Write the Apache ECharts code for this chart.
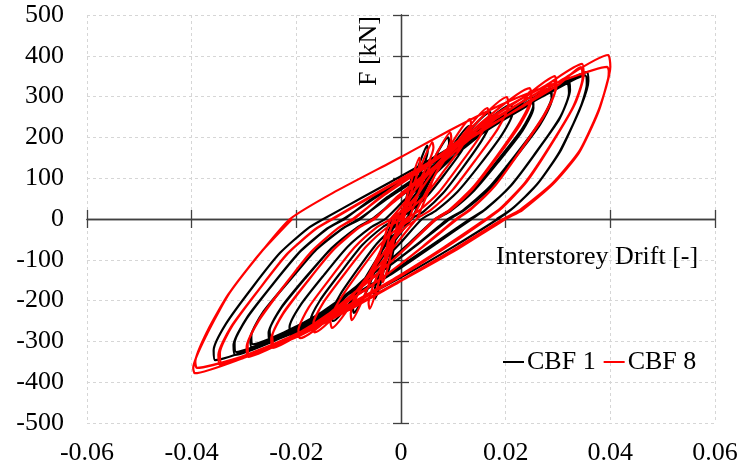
<!DOCTYPE html>
<html>
<head>
<meta charset="utf-8">
<script src="https://cdn.jsdelivr.net/npm/echarts@6/dist/echarts.min.js"></script>
<style>
html,body{margin:0;padding:0;background:#fff;}
#chart{width:742px;height:472px;}
</style>
</head>
<body>
<div id="chart"></div>
<script>
// Tick labels
var xTickLabels = ['-0.06','-0.04','-0.02','0','0.02','0.04','0.06'];
var yTickLabels = ['-500','-400','-300','-200','-100','0','100','200','300','400','500'];
var seriesNames = ['CBF 1','CBF 8'];

// CBF 1 (black): [interstorey drift, F kN]
var cbf1 = [
[0,0],[0.0013,65],[0.0025,120],
[0.0026,112],[0.0022,89],[0.0015,58],[0.0008,29],[0,8],[-0.0004,0],
[-0.0011,-52],[-0.0018,-99],[-0.0025,-130],
[-0.0026,-121],[-0.0022,-96],[-0.0015,-62],[-0.0008,-31],[0,-9],[0.0004,0],
[0.0019,76],[0.0035,135],[0.005,180],
[0.0051,167],[0.0044,133],[0.0028,86],[0.0013,43],[-0.0003,13],[-0.0012,0],
[-0.0025,-78],[-0.0037,-148],[-0.005,-195],
[-0.0051,-181],[-0.0044,-144],[-0.0028,-94],[-0.0013,-47],[0.0003,-14],[0.0012,0],
[0.0038,84],[0.0064,150],[0.009,200],
[0.0092,186],[0.008,148],[0.0053,96],[0.0027,48],[0.0001,14],[-0.0015,0],
[-0.004,-92],[-0.0065,-175],[-0.009,-230],
[-0.0092,-214],[-0.0079,-170],[-0.0052,-110],[-0.0024,-55],[0.0004,-16],[0.002,0],
[0.0056,96],[0.0094,171],[0.013,228],
[0.0132,212],[0.0117,169],[0.0083,109],[0.0049,55],[0.0015,16],[-0.0005,0],
[-0.0046,-100],[-0.0089,-190],[-0.013,-250],
[-0.0133,-233],[-0.0116,-185],[-0.0081,-120],[-0.0046,-60],[-0.0011,-18],[0.001,0],
[0.0063,110],[0.0117,197],[0.017,262],
[0.0173,244],[0.0155,194],[0.0118,126],[0.008,63],[0.0043,18],[0.002,0],
[-0.0043,-107],[-0.0107,-204],[-0.017,-268],
[-0.0173,-249],[-0.0154,-198],[-0.0114,-129],[-0.0074,-64],[-0.0034,-19],[-0.001,0],
[0.0063,118],[0.0137,210],[0.021,280],
[0.0213,260],[0.0193,207],[0.0151,134],[0.0108,67],[0.0066,20],[0.004,0],
[0,-57],[-0.0043,-114],[-0.0085,-165],[-0.0128,-217],[-0.017,-257],[-0.021,-285],
[-0.0213,-265],[-0.0192,-211],[-0.0147,-137],[-0.0102,-68],[-0.0057,-20],[-0.003,0],
[0.0008,48],[0.0068,114],[0.0113,168],[0.016,219],[0.0205,258],[0.025,300],
[0.0253,279],[0.0232,222],[0.0185,144],[0.0139,72],[0.0093,21],[0.0065,0],
[0.0015,-60],[-0.0039,-120],[-0.0093,-174],[-0.0146,-228],[-0.02,-270],[-0.025,-300],
[-0.0253,-279],[-0.0231,-222],[-0.0182,-144],[-0.0133,-72],[-0.0084,-21],[-0.0055,0],
[-0.0009,48],[0.0064,117],[0.0113,166],[0.016,214],[0.0205,252],[0.025,292],
[0.0253,272],[0.0232,216],[0.0186,140],[0.014,70],[0.0095,20],[0.0068,0],
[0.0018,-58],[-0.0036,-117],[-0.009,-170],[-0.0144,-223],[-0.0198,-264],[-0.0248,-294],
[-0.0251,-273],[-0.0229,-217],[-0.0181,-141],[-0.0132,-71],[-0.0083,-21],[-0.0053,0],
[-0.0009,51],[0.0064,122],[0.0118,180],[0.0176,234],[0.0231,276],[0.0285,321],
[0.0288,299],[0.0266,238],[0.0217,154],[0.0168,77],[0.0119,22],[0.009,0],
[0.003,-63],[-0.0034,-126],[-0.0098,-182],[-0.0161,-239],[-0.0225,-283],[-0.0285,-314],
[-0.0288,-292],[-0.0265,-232],[-0.0213,-151],[-0.0162,-75],[-0.011,-22],[-0.008,0],
[-0.0026,50],[0.006,123],[0.0124,183],[0.0192,240],[0.0245,280],[0.0285,313],
[0.0288,292],[0.0266,232],[0.0218,150],[0.017,75],[0.0121,22],[0.0093,0],
[0.0033,-61],[-0.0031,-123],[-0.0095,-178],[-0.0158,-234],[-0.0222,-277],[-0.0283,-307],
[-0.0286,-286],[-0.0263,-227],[-0.0212,-148],[-0.0161,-74],[-0.011,-22],[-0.0078,0],
[-0.0026,54],[0.006,129],[0.0124,190],[0.0192,248],[0.0256,292],[0.032,340],
[0.0323,316],[0.0305,252],[0.0258,163],[0.021,82],[0.0162,24],[0.0135,0],
[0.006,-67],[-0.0016,-133],[-0.0093,-193],[-0.0169,-253],[-0.0245,-300],[-0.0317,-333],
[-0.032,-310],[-0.0296,-246],[-0.0245,-160],[-0.0193,-80],[-0.0141,-23],[-0.011,0],
[-0.0047,54],[0.0053,131],[0.0127,194],[0.0206,254],[0.027,300],[0.0318,332],
[0.0321,309],[0.0303,246],[0.0256,160],[0.0209,80],[0.016,23],[0.0132,0],
[0.0058,-65],[-0.0018,-130],[-0.0093,-189],[-0.0168,-248],[-0.0243,-294],[-0.0315,-326],
[-0.0318,-304],[-0.0294,-241],[-0.0243,-157],[-0.0191,-78],[-0.014,-23],[-0.0108,0],
[-0.0047,58],[0.0053,137],[0.0127,202],[0.0206,263],[0.0281,310],[0.0355,360],
[0.0358,338],[0.0345,280],[0.0306,170],[0.0262,88],[0.0216,29],[0.0185,0],
[0.0099,-69],[0.0007,-138],[-0.0085,-201],[-0.0177,-263],[-0.0269,-311],[-0.0355,-346],
[-0.0358,-322],[-0.0334,-256],[-0.0283,-166],[-0.0231,-83],[-0.0179,-24],[-0.0148,0],
[-0.0075,52],[0.0035,130],[0.0125,198],[0.021,262],[0.0285,310],[0.0352,352],
[0.0355,330],[0.0342,270],[0.0303,165],[0.026,85],[0.0214,27],[0.0183,0]
];

// CBF 8 (red): [interstorey drift, F kN]
var cbf8 = [
[0,0],[0.0018,85],[0.0035,150],
[0.0036,140],[0.0031,111],[0.0021,72],[0.0011,36],[0.0001,10],[-0.0005,0],
[-0.0015,-62],[-0.0025,-118],[-0.0035,-155],
[-0.0036,-144],[-0.0031,-115],[-0.0021,-74],[-0.0011,-37],[-0.0001,-11],[0.0005,0],
[0.0023,80],[0.0042,142],[0.006,188],
[0.0062,175],[0.0053,139],[0.0034,90],[0.0015,45],[-0.0004,13],[-0.0015,0],
[-0.003,-88],[-0.0045,-167],[-0.006,-220],
[-0.0062,-205],[-0.0053,-163],[-0.0034,-106],[-0.0015,-53],[0.0004,-15],[0.0015,0],
[0.0041,90],[0.0068,160],[0.0094,212],
[0.0096,197],[0.0083,157],[0.0054,102],[0.0026,51],[-0.0003,15],[-0.002,0],
[-0.0044,-99],[-0.007,-188],[-0.0094,-248],
[-0.0096,-231],[-0.0082,-184],[-0.0051,-119],[-0.002,-60],[0.0011,-17],[0.003,0],
[0.0064,105],[0.0098,188],[0.0132,245],
[0.0134,228],[0.0118,181],[0.0082,118],[0.0047,59],[0.0011,18],[-0.001,0],
[-0.005,-107],[-0.0092,-203],[-0.0132,-267],
[-0.0135,-248],[-0.0117,-198],[-0.0079,-128],[-0.0041,-64],[-0.0003,-19],[0.002,0],
[0.0068,114],[0.0117,204],[0.0165,272],
[0.0168,253],[0.015,201],[0.0111,131],[0.0072,65],[0.0033,19],[0.001,0],
[-0.0048,-111],[-0.0107,-211],[-0.0165,-278],
[-0.0168,-259],[-0.0149,-206],[-0.0107,-133],[-0.0066,-67],[-0.0025,-19],[0,0],
[0.0067,126],[0.0135,224],[0.0202,299],
[0.0205,278],[0.0185,221],[0.0142,144],[0.0099,72],[0.0056,21],[0.003,0],
[-0.0044,-117],[-0.0119,-222],[-0.0193,-292],
[-0.0196,-272],[-0.0176,-216],[-0.0132,-140],[-0.0089,-70],[-0.0046,-20],[-0.002,0],
[0.0069,135],[0.0158,241],[0.0246,321],
[0.0249,299],[0.0228,238],[0.0183,154],[0.0137,77],[0.0092,22],[0.0065,0],
[0.0015,-63],[-0.0037,-126],[-0.009,-183],[-0.0143,-240],[-0.0195,-284],[-0.0245,-316],
[-0.0248,-294],[-0.0226,-234],[-0.0178,-152],[-0.013,-76],[-0.0082,-22],[-0.0053,0],
[-0.0006,50],[0.0068,126],[0.0124,188],[0.0183,247],[0.0236,292],[0.0246,312],
[0.0249,291],[0.0228,232],[0.0183,150],[0.0138,75],[0.0094,21],[0.0068,0],
[0.0018,-61],[-0.0034,-122],[-0.0087,-178],[-0.014,-234],[-0.0192,-277],[-0.0243,-308],
[-0.0246,-287],[-0.0224,-228],[-0.0176,-148],[-0.0128,-74],[-0.008,-21],[-0.005,0],
[-0.0006,56],[0.0068,133],[0.0124,196],[0.0183,256],[0.0238,301],[0.0294,350],
[0.0297,326],[0.0275,259],[0.0228,168],[0.0181,84],[0.0133,25],[0.0105,0],
[0.0041,-68],[-0.0026,-135],[-0.0094,-196],[-0.0161,-257],[-0.0228,-304],[-0.0292,-338],
[-0.0295,-314],[-0.0272,-250],[-0.0222,-162],[-0.0172,-81],[-0.0122,-24],[-0.0092,0],
[-0.0033,58],[0.0061,139],[0.0131,206],[0.0206,268],[0.0272,318],[0.0292,340],
[0.0295,318],[0.0273,252],[0.0226,163],[0.018,82],[0.0134,24],[0.0108,0],
[0.0044,-66],[-0.0022,-131],[-0.0089,-191],[-0.0156,-251],[-0.0224,-297],[-0.029,-330],
[-0.0293,-307],[-0.027,-244],[-0.022,-158],[-0.017,-79],[-0.0121,-23],[-0.009,0],
[-0.0033,61],[0.0061,144],[0.0131,213],[0.0206,277],[0.0276,327],[0.0346,380],
[0.0349,353],[0.0332,281],[0.0287,182],[0.024,91],[0.0193,27],[0.0165,0],
[0.0083,-72],[-0.0004,-143],[-0.009,-208],[-0.0176,-272],[-0.0263,-322],[-0.0346,-358],
[-0.0349,-333],[-0.0325,-265],[-0.0271,-172],[-0.0218,-86],[-0.0164,-25],[-0.0132,0],
[-0.006,54],[0.005,136],[0.014,207],[0.023,274],[0.03,328],[0.0344,372],
[0.0347,346],[0.0329,275],[0.0284,178],[0.0237,89],[0.019,26],[0.0162,0],
[0.0081,-70],[-0.0005,-140],[-0.0091,-204],[-0.0177,-267],[-0.0262,-316],[-0.0343,-352],
[-0.0346,-328],[-0.0322,-261],[-0.0269,-169],[-0.0216,-84],[-0.0163,-25],[-0.013,0],
[-0.006,52],[0.005,132],[0.014,203],[0.023,276],[0.031,343],[0.0396,402],
[0.0399,390],[0.04,373],[0.038,275],[0.0342,169],[0.029,88],[0.0227,22],[0.0195,0],
[0.01,-75],[0,-150],[-0.0092,-215],[-0.02,-289],[-0.03,-340],[-0.0394,-378],
[-0.0397,-365],[-0.037,-280],[-0.0327,-180],[-0.0264,-76],[-0.0212,0],
[-0.013,64],[0,152],[0.01,222],[0.02,285],[0.03,335],[0.0394,373],
[0.0397,362],[0.0396,345],[0.0377,262],[0.034,162],[0.029,85],[0.0232,22],[0.02,0],
[0.01,-80],[0,-152],[-0.0092,-218],[-0.02,-290],[-0.03,-336],[-0.039,-365],
[-0.0393,-350],[-0.037,-275],[-0.033,-185],[-0.027,-85],[-0.0208,0]
];

var FONT = '"Liberation Serif","DejaVu Serif",serif';
var AX = '#404040';
var chart = echarts.init(document.getElementById('chart'), null, {renderer:'canvas'});

function xAxisBase(extra){
  var a = {type:'value', min:-0.06, max:0.06, interval:0.02,
    axisLabel:{show:false}, splitLine:{show:false}, axisTick:{show:false}, axisLine:{show:false}};
  for (var k in extra) a[k] = extra[k];
  return a;
}
function yAxisBase(extra){
  var a = {type:'value', min:-500, max:500, interval:100,
    axisLabel:{show:false}, splitLine:{show:false}, axisTick:{show:false}, axisLine:{show:false}};
  for (var k in extra) a[k] = extra[k];
  return a;
}

var option = {
  animation:false,
  backgroundColor:'#ffffff',
  grid:{left:87, right:27, top:15, bottom:49, containLabel:false},
  legend:{
    data:seriesNames, left:498, top:344, icon:'rect', itemWidth:21, itemHeight:2, itemGap:8,
    textStyle:{fontFamily:FONT, fontSize:26, color:'#000', padding:[0,0,0,-2]}
  },
  xAxis:[
    xAxisBase({position:'bottom',
      axisLine:{show:false, onZero:false},
      axisLabel:{show:true, margin:17, fontFamily:FONT, fontSize:26, color:'#000',
        showMinLabel:true, showMaxLabel:true,
        formatter:function(v){ return xTickLabels[Math.round((v + 0.06) / 0.02)]; }},
      splitLine:{show:true, lineStyle:{color:'#d6d6d6', width:1, type:[3,3]}}}),
    xAxisBase({axisLine:{show:true, onZero:true, onZeroAxisIndex:0, lineStyle:{color:AX, width:1.3}},
      axisTick:{show:true, inside:false, length:9, lineStyle:{color:AX, width:1.3}}}),
    xAxisBase({axisLine:{show:true, onZero:true, onZeroAxisIndex:0, lineStyle:{color:AX, width:1.3}},
      axisTick:{show:true, inside:true, length:9, lineStyle:{color:AX, width:1.3}}})
  ],
  yAxis:[
    yAxisBase({position:'left',
      axisLine:{show:false, onZero:false},
      axisLabel:{show:true, margin:23, fontFamily:FONT, fontSize:26, color:'#000',
        showMinLabel:true, showMaxLabel:true,
        formatter:function(v){ return yTickLabels[Math.round((v + 500) / 100)]; }},
      splitLine:{show:true, lineStyle:{color:'#d6d6d6', width:1, type:[3,3]}}}),
    yAxisBase({axisLine:{show:true, onZero:true, onZeroAxisIndex:0, lineStyle:{color:AX, width:1.3}},
      axisTick:{show:true, inside:false, length:8, lineStyle:{color:AX, width:1.3}}}),
    yAxisBase({axisLine:{show:true, onZero:true, onZeroAxisIndex:0, lineStyle:{color:AX, width:1.3}},
      axisTick:{show:true, inside:true, length:8, lineStyle:{color:AX, width:1.3}}})
  ],
  graphic:[
    {type:'text', x:369, y:51, rotation:Math.PI/2, z:10,
      style:{text:'F [kN]', font:'26px ' + FONT, fill:'#000', align:'center', verticalAlign:'middle'}},
    {type:'text', x:496, y:257, z:10,
      style:{text:'Interstorey Drift [-]', font:'26px ' + FONT, fill:'#000', align:'left', verticalAlign:'middle'}}
  ],
  series:[
    {name:seriesNames[0], type:'line', data:cbf1, xAxisIndex:0, yAxisIndex:0, showSymbol:false, symbol:'none',
      smooth:0.2, lineStyle:{color:'#000000', width:2.2}, itemStyle:{color:'#000000'}, z:3},
    {name:seriesNames[1], type:'line', data:cbf8, xAxisIndex:0, yAxisIndex:0, showSymbol:false, symbol:'none',
      smooth:0.2, lineStyle:{color:'#ff0000', width:2.2}, itemStyle:{color:'#ff0000'}, z:4}
  ]
};
chart.setOption(option);
</script>
</body>
</html>
